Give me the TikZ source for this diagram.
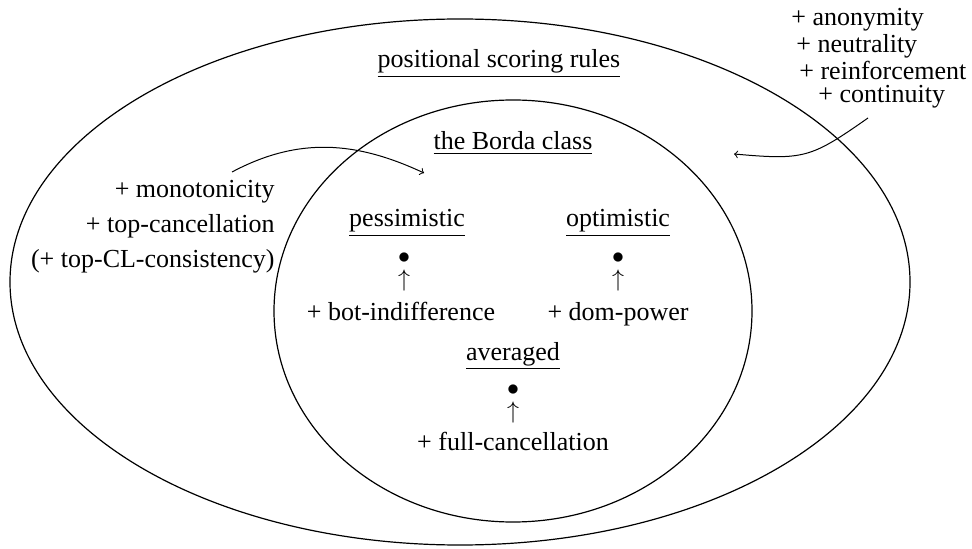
\documentclass[tikz,border=0pt]{standalone}
\usepackage{fontspec}
\setmainfont{Liberation Serif}
\begin{document}
\begin{tikzpicture}[x=0.5pt,y=0.5pt,
  lbl/.style={inner sep=0pt,font=\fontsize{13}{15}\selectfont},
  ell/.style={line width=0.6pt},
  conn/.style={line width=0.5pt,->}]
\useasboundingbox (0,0) rectangle (972,-549);
% ellipses
\draw[ell] (460,-282) ellipse [x radius=225pt, y radius=131.5pt];
\draw[ell] (513,-311) ellipse [x radius=119.5pt, y radius=105.5pt];
% titles
\node[lbl,anchor=base] (psr) at (499,-68) {\underline{positional scoring rules}};
\node[lbl,anchor=base] (borda) at (513,-150) {\underline{the Borda class}};
\node[lbl,anchor=base] (pess) at (407,-227) {\underline{pessimistic}};
\node[lbl,anchor=base] (opt) at (618,-227) {\underline{optimistic}};
\node[lbl,anchor=base] (avg) at (513,-360) {\underline{averaged}};
% bullets and arrows
\node[lbl,anchor=base] (b1) at (404,-264) {$\bullet$};
\node[lbl,anchor=base] (u1) at (404,-287) {$\uparrow$};
\node[lbl,anchor=base] (t1) at (401,-321) {+ bot-indifference};
\node[lbl,anchor=base] (b2) at (618,-264) {$\bullet$};
\node[lbl,anchor=base] (u2) at (618,-287) {$\uparrow$};
\node[lbl,anchor=base] (t2) at (618,-321) {+ dom-power};
\node[lbl,anchor=base] (b3) at (513,-395) {$\bullet$};
\node[lbl,anchor=base] (u3) at (513,-418) {$\uparrow$};
\node[lbl,anchor=base] (t3) at (513,-450) {+ full-cancellation};
% left axioms
\node[lbl,anchor=base east] (mono) at (275,-198) {+ monotonicity};
\node[lbl,anchor=base east] (topc) at (275,-233) {+ top-cancellation};
\node[lbl,anchor=base east] (topcl) at (275,-268) {(+ top-CL-consistency)};
% right axioms
\node[lbl,anchor=base west] (anon) at (791,-26) {+ anonymity};
\node[lbl,anchor=base west] (neut) at (796,-53) {+ neutrality};
\node[lbl,anchor=base west] (reinf) at (799,-80) {+ reinforcement};
\node[lbl,anchor=base west] (cont) at (818,-103) {+ continuity};
% connectors
\coordinate (a1s) at (232,-172);
\coordinate (a1e) at (424,-173);
\coordinate (a2s) at (868,-118);
\coordinate (a2e) at (734,-154);
\draw[conn] (a1s) to[out=28,in=155] (a1e);
\draw[conn] (a2s) to[out=215,in=-5,looseness=1.3] (a2e);
\end{tikzpicture}
\end{document}
